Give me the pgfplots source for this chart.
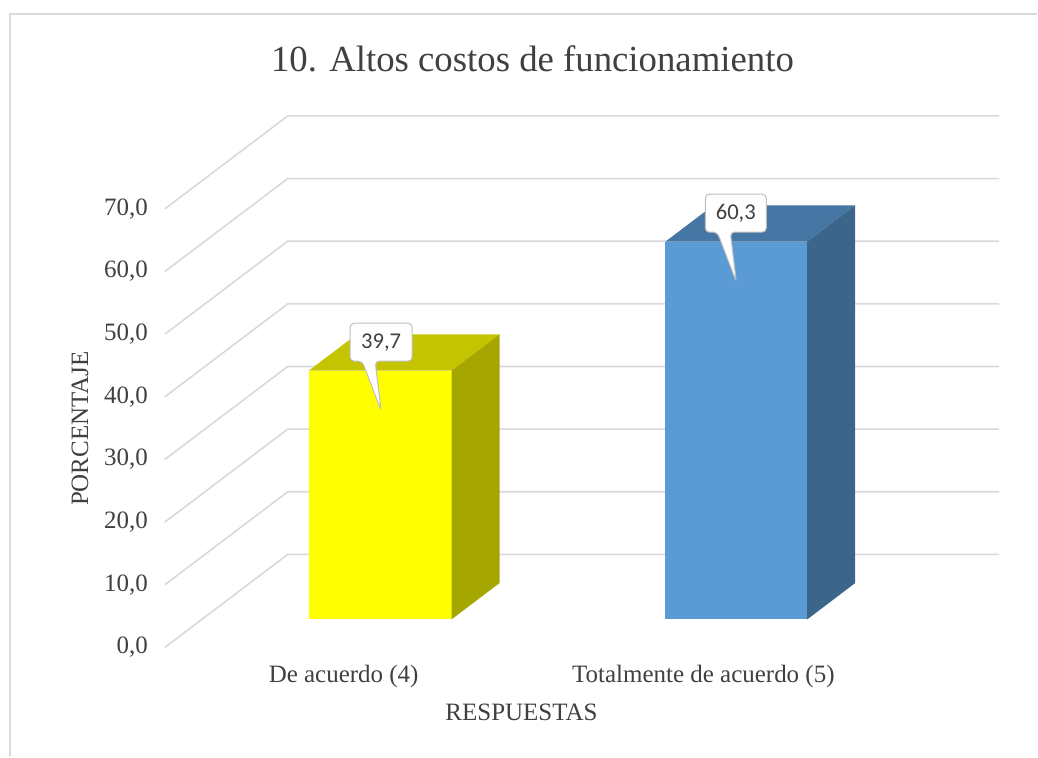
\documentclass[border=0pt]{standalone}
\usepackage{pgfplots}
\usepackage{pgfplotstable}
\pgfplotsset{compat=1.18}
\usepackage{fontspec}
\setmainfont{Liberation Serif}
\newfontfamily\calib{Carlito}
\definecolor{txt}{HTML}{404040}
\definecolor{gridc}{HTML}{D9D9D9}
\definecolor{yfront}{HTML}{FFFF00}
\definecolor{ytop}{HTML}{C4C400}
\definecolor{yside}{HTML}{A6A600}
\definecolor{bfront}{HTML}{5B9BD5}
\definecolor{btop}{HTML}{4677A4}
\definecolor{bside}{HTML}{3B658A}
\definecolor{callb}{HTML}{BFBFBF}

\pgfplotstableread{
i val
0 39.7
1 60.3
}\datatable
\pgfplotstablegetelem{0}{val}\of\datatable \let\va\pgfplotsretval
\pgfplotstablegetelem{1}{val}\of\datatable \let\vb\pgfplotsretval
\pgfmathsetmacro\vaT{\va+5.8}
\pgfmathsetmacro\vbT{\vb+5.8}

\begin{document}
\begin{tikzpicture}
\begin{axis}[
  x=0.5pt, y=3.135pt,
  xmin=165, xmax=1000, ymin=-4.47, ymax=80.37,
  clip=false,
  axis line style={draw=none},
  tick style={draw=none},
  major tick length=0pt,
  ytick={-4.47,5.53,15.53,25.53,35.53,45.53,55.53,65.53},
  yticklabels={{0,0},{10,0},{20,0},{30,0},{40,0},{50,0},{60,0},{70,0}},
  yticklabel style={anchor=east, xshift=-5pt, font=\fontsize{12.5}{14}\selectfont, text=txt},
  xtick={344,704},
  xticklabels={De acuerdo (4),Totalmente de acuerdo (5)},
  xticklabel style={anchor=base, yshift=-17.5pt, font=\fontsize{12.5}{14}\selectfont, text=txt},
]
% bounding box of the whole picture
\path (axis cs:0,-21.85) rectangle (axis cs:1038,98.88);
% outer border (top and left)
\draw[gridc, line width=1pt] (axis cs:10,-21.85) -- (axis cs:10,96.65) -- (axis cs:1038,96.65);

% walls: side diagonals and back-wall lines
\pgfplotsinvokeforeach{0,10,20,30,40,50,60,70}{
  \draw[gridc, line width=0.8pt] (axis cs:165,{#1-4.47}) -- (axis cs:288,{#1+10.37}) -- (axis cs:1000,{#1+10.37});
}

% bar 1 (yellow)
\addplot[fill=yfront, draw=none] coordinates {(309,0) (452,0) (452,\va) (309,\va)} -- cycle;
\addplot[fill=ytop, draw=none] coordinates {(309,\va) (452,\va) (500,\vaT) (357,\vaT)} -- cycle;
\addplot[fill=yside, draw=none] coordinates {(452,0) (500,5.8) (500,\vaT) (452,\va)} -- cycle;
% bar 2 (blue)
\addplot[fill=bfront, draw=none] coordinates {(666,0) (808,0) (808,\vb) (666,\vb)} -- cycle;
\addplot[fill=btop, draw=none] coordinates {(666,\vb) (808,\vb) (856,\vbT) (714,\vbT)} -- cycle;
\addplot[fill=bside, draw=none] coordinates {(808,0) (856,5.8) (856,\vbT) (808,\vb)} -- cycle;

% callouts
\draw[fill=white, draw=callb, line width=0.5pt, rounded corners=2pt]
  (axis cs:350.5,{\va+7.58}) -- (axis cs:412.5,{\va+7.58}) -- (axis cs:412.5,{\va+1.52})
  -- (axis cs:375.5,{\va+1.52}) -- (axis cs:381.5,{\va-6.38}) -- (axis cs:362.5,{\va+1.52})
  -- (axis cs:350.5,{\va+1.52}) -- cycle;
\node[text=txt, font=\calib\fontsize{11.3}{13}\selectfont] at (axis cs:381.5,{\va+4.55}) {39,7};
\draw[fill=white, draw=callb, line width=0.5pt, rounded corners=2pt]
  (axis cs:706,{\vb+7.58}) -- (axis cs:767,{\vb+7.58}) -- (axis cs:767,{\vb+1.52})
  -- (axis cs:731,{\vb+1.52}) -- (axis cs:737,{\vb-6.38}) -- (axis cs:718,{\vb+1.52})
  -- (axis cs:706,{\vb+1.52}) -- cycle;
\node[text=txt, font=\calib\fontsize{11.3}{13}\selectfont] at (axis cs:736.5,{\vb+4.55}) {60,3};

% titles
\node[anchor=base, text=txt, font=\fontsize{18.4}{21}\selectfont] at (axis cs:533,87.4) {10. Altos costos de funcionamiento};
\node[anchor=base, text=txt, font=\fontsize{12.5}{14}\selectfont] at (axis cs:522,-16.1) {RESPUESTAS};
\node[rotate=90, text=txt, font=\fontsize{12.5}{14}\selectfont] at (axis cs:80,30.46) {PORCENTAJE};
\end{axis}
\end{tikzpicture}
\end{document}
